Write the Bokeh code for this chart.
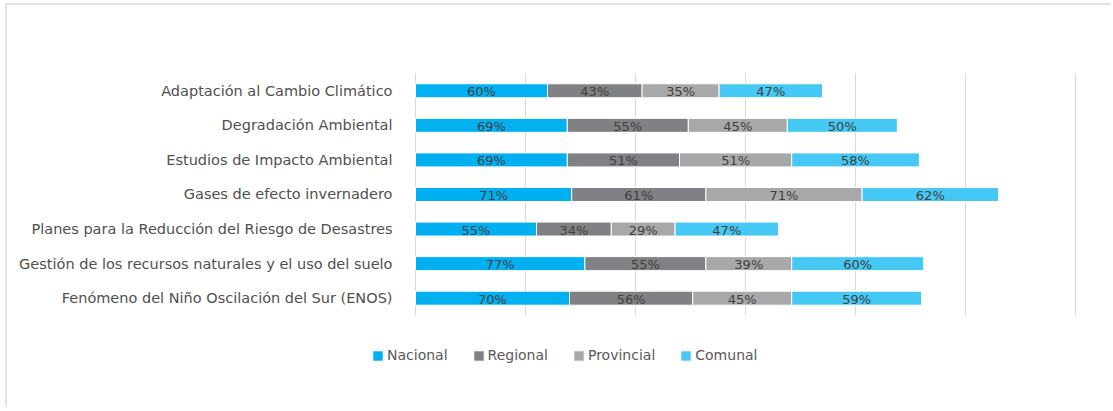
from bokeh.plotting import figure
from bokeh.models import (ColumnDataSource, LabelSet, Legend, LegendItem, Range1d,
                          FixedTicker)
from bokeh.core.properties import value
from bokeh.embed import file_html
from bokeh.resources import INLINE

categories = [
    "Adaptación al Cambio Climático",
    "Degradación Ambiental",
    "Estudios de Impacto Ambiental",
    "Gases de efecto invernadero",
    "Planes para la Reducción del Riesgo de Desastres",
    "Gestión de los recursos naturales y el uso del suelo",
    "Fenómeno del Niño Oscilación del Sur (ENOS)",
]
series = ["Nacional", "Regional", "Provincial", "Comunal"]
nacional = [60, 69, 69, 71, 55, 77, 70]
regional = [43, 55, 51, 61, 34, 55, 56]
provincial = [35, 45, 51, 71, 29, 39, 45]
comunal = [47, 50, 58, 62, 47, 60, 59]
grid_values = [0, 50, 100, 150, 200, 250, 300]
colors = ["#00B0F0", "#808184", "#A7A8AA", "#45C8F3"]

FONT = "DejaVu Sans"
values = [nacional, regional, provincial, comunal]
n = len(categories)
ypos = [n - 1 - i for i in range(n)]  # top category highest

data = {"y": ypos, "cat": categories}
for s, v in zip(series, values):
    data[s] = v
source = ColumnDataSource(data)

# canvas: page x 7..1113, y 5..409 ; value 0 at x=415, 2.2 px per unit
W, H = 1106, 404
px_per_x = 2.2
x0_page, canvas_left, canvas_top = 415, 7, 5
unit_y = 34.57
ybot_page = 297.7
p = figure(
    x_range=Range1d((canvas_left - x0_page) / px_per_x, (canvas_left + W - x0_page) / px_per_x),
    y_range=Range1d((ybot_page - (canvas_top + H)) / unit_y, (ybot_page - canvas_top) / unit_y),
    width=W, height=H, title=None,
    output_backend="svg", toolbar_location=None,
    min_border=0, min_border_left=0, min_border_right=0, min_border_top=0, min_border_bottom=0,
)

# vertical gridlines limited to the category band
p.segment(x0=grid_values, x1=grid_values, y0=[-0.5] * len(grid_values),
          y1=[n - 0.5] * len(grid_values), line_color="#D9D9D9", line_width=1)

renderers = p.hbar_stack(series, y="y", height=0.405, color=colors, source=source,
                         line_color="white", line_width=1)

# value labels at segment centres
for i, (s, v) in enumerate(zip(series, values)):
    left = [sum(vals[j] for vals in values[:i]) for j in range(n)]
    centers = [l + x / 2 for l, x in zip(left, v)]
    src = ColumnDataSource(dict(x=centers, y=ypos, t=[f"{x}%" for x in v]))
    p.add_layout(LabelSet(x="x", y="y", text="t", source=src, text_align="center",
                          text_baseline="middle", text_font=value(FONT),
                          text_font_size="13px", text_color="#404040", y_offset=-1))

legend = Legend(items=[LegendItem(label=s, renderers=[r]) for s, r in zip(series, renderers)],
                orientation="horizontal", location=(364, 44),
                glyph_width=13, glyph_height=13, label_standoff=3, spacing=24,
                label_height=20, label_width=10,
                label_text_font=FONT, label_text_font_size="14px", label_text_color="#595959",
                border_line_color=None, background_fill_alpha=0, padding=0, margin=0)
p.add_layout(legend, "center")

p.xaxis.visible = False
p.xgrid.grid_line_color = None
p.ygrid.grid_line_color = None
p.yaxis.fixed_location = 0
p.yaxis.ticker = FixedTicker(ticks=ypos)
p.yaxis.major_label_overrides = {int(y): c for y, c in zip(ypos, categories)}
p.yaxis.axis_line_color = None
p.yaxis.major_tick_line_color = None
p.yaxis.minor_tick_line_color = None
p.yaxis.major_label_standoff = 17
p.yaxis.major_label_text_font = FONT
p.yaxis.major_label_text_font_size = "14.5px"
p.yaxis.major_label_text_color = "#505050"
p.outline_line_color = None
p.styles = {"margin-left": "5px", "margin-top": "3px",
            "border-top": "2px solid #E3E3E3", "border-left": "2px solid #E3E3E3"}

open("out.html", "w").write(file_html(p, INLINE))
